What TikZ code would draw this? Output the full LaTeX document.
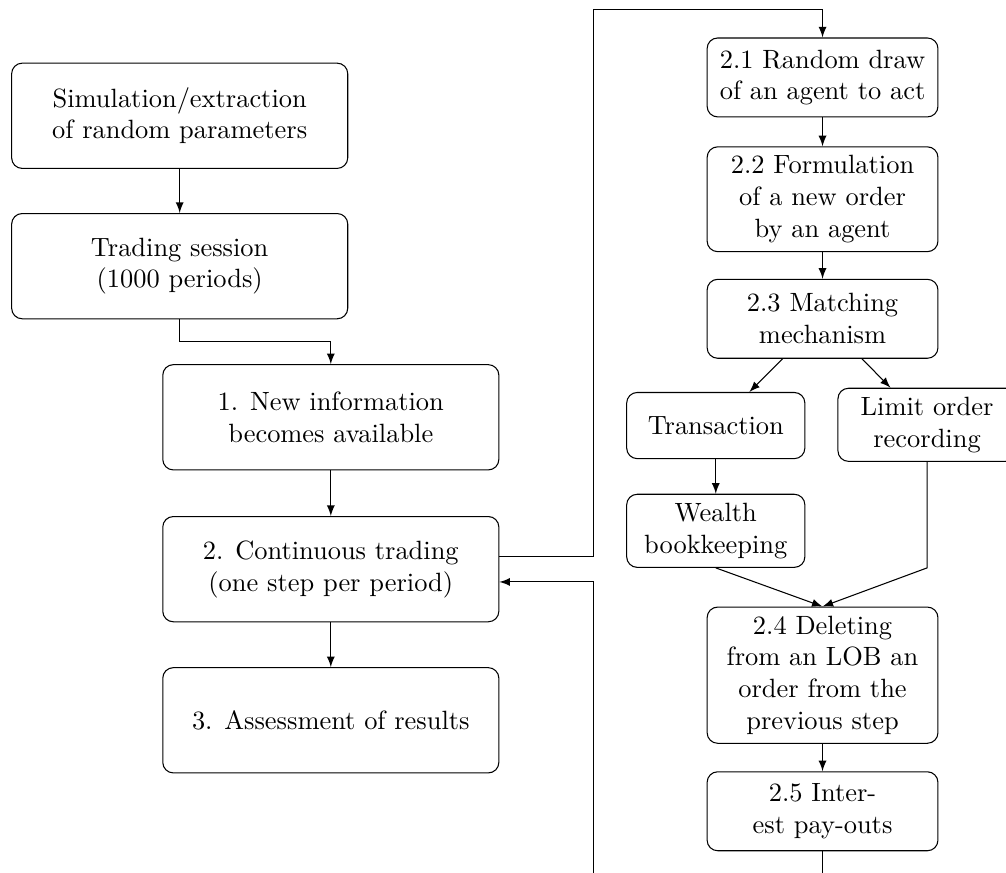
\documentclass[tikz,border=0pt]{standalone}
\begin{document}
\begin{tikzpicture}[box/.style={draw,rounded corners,align=center},
mainbox/.style={box,minimum width=4.47cm,minimum height=1.4cm},
stepbox/.style={box,minimum width=3.07cm,minimum height=1.05cm},
subbox/.style={box,minimum width=2.37cm,minimum height=0.88cm},
arr/.style={-latex}]
\clip (0,0) rectangle (13.38,-11.6);
\node[mainbox] (sim) at (2.39,-1.54) {Simulation/extraction\\of random parameters};
\node[mainbox] (sess) at (2.39,-3.54) {Trading session\\(1000 periods)};
\node[mainbox] (info) at (4.40,-5.55) {1. New information\\becomes available};
\node[mainbox] (trade) at (4.40,-7.57) {2. Continuous trading\\(one step per period)};
\node[mainbox] (assess) at (4.40,-9.58) {3. Assessment of results};
\node[stepbox] (draw) at (10.94,-1.03) {2.1 Random draw\\of an agent to act};
\node[stepbox] (order) at (10.94,-2.65) {2.2 Formulation\\of a new order\\by an agent};
\node[stepbox] (match) at (10.94,-4.24) {2.3 Matching\\mechanism};
\node[subbox] (trans) at (9.52,-5.66) {Transaction};
\node[subbox] (limit) at (12.33,-5.65) {Limit order\\recording};
\node[subbox] (wealth) at (9.52,-7.06) {Wealth\\bookkeeping};
\node[stepbox] (del) at (10.94,-8.98) {2.4 Deleting\\from an LOB an\\order from the\\previous step};
\node[stepbox] (pay) at (10.94,-10.79) {2.5 Inter-\\est pay-outs};
\coordinate (loopT) at (7.89,-0.13);
\coordinate (loopB) at (7.89,-12.2);
\draw[arr] (sim) -- (sess);
\draw[arr] (sess.south) -- ++(0,-0.3) -| (info.north);
\draw[arr] (info) -- (trade);
\draw[arr] (trade) -- (assess);
\draw[arr] ([yshift=0.17cm]trade.east) -| (loopT) -| (draw.north);
\draw[arr] (draw) -- (order);
\draw[arr] (order) -- (match);
\draw[arr] (match) -- (trans);
\draw[arr] (match) -- (limit);
\draw[arr] (trans) -- (wealth);
\draw[arr] (wealth.south) -- (del.north);
\draw[arr] (limit.south) -- (limit.south |- wealth.south) -- (del.north);
\draw[arr] (del) -- (pay);
\draw[arr] (pay.south) |- (loopB) |- ([yshift=-0.17cm]trade.east);
\end{tikzpicture}
\end{document}
